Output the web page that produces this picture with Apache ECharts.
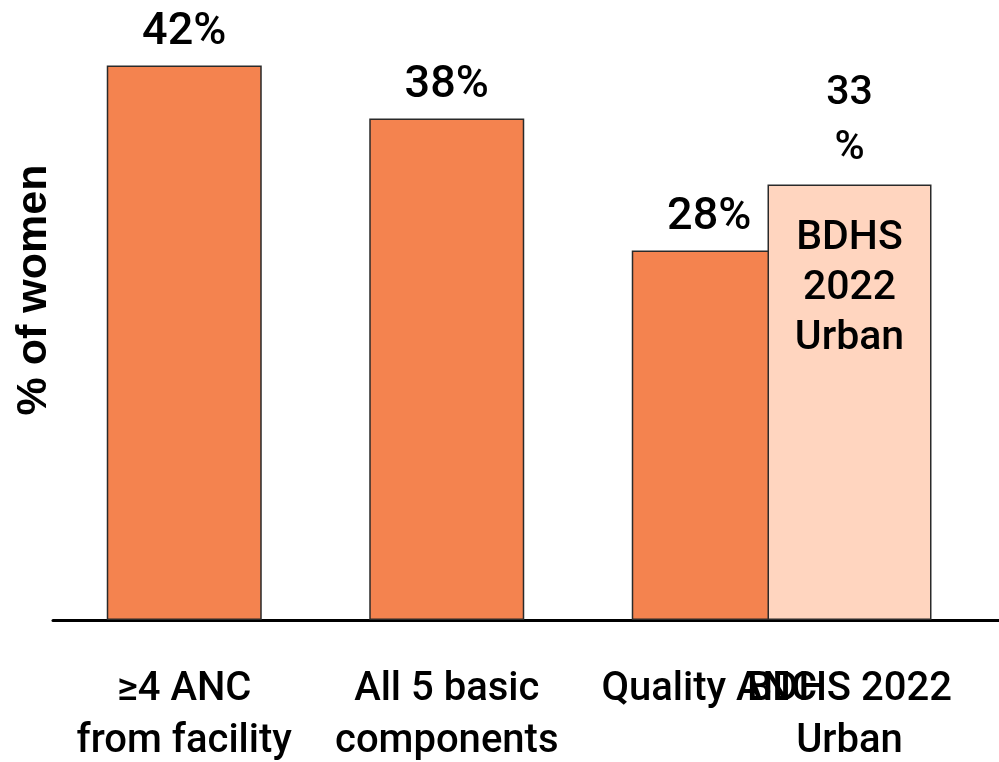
<!DOCTYPE html>
<html>
<head>
<meta charset="utf-8">
<title>ANC coverage</title>
<script src="https://cdn.jsdelivr.net/npm/echarts@6/dist/echarts.min.js"></script>
<style>
  html, body { margin: 0; padding: 0; background: #ffffff; }
  #chart { width: 999px; height: 762px; }
</style>
</head>
<body>
<div id="chart"></div>
<script>
// Categories shown along the baseline
const categories = ['≥4 ANC\nfrom facility', 'All 5 basic\ncomponents', 'Quality ANC', 'BDHS 2022\nUrban'];
// Study values (% of women)
const studyValues = [42, 38, 28, null];
// National survey comparison (% of women)
const bdhsValues = [null, null, null, 33];
// Axis settings
const yMax = 50;
const yAxisTitle = '% of women';

const FONT = 'Roboto';
const chart = echarts.init(document.getElementById('chart'), null, { renderer: 'canvas' });

const option = {
  animation: false,
  backgroundColor: '#ffffff',
  grid: [
    { left: 53, width: 1050, bottom: 142, height: 660, containLabel: false, outerBoundsMode: 'none' },
    { left: 9.5, width: 960, bottom: 142, height: 660, containLabel: false, outerBoundsMode: 'none' }
  ],
  xAxis: [
    {
      type: 'category',
      gridIndex: 0,
      data: categories,
      axisLine: { show: true, lineStyle: { color: '#000000', width: 3 } },
      axisTick: { show: false },
      splitLine: { show: false },
      axisLabel: {
        interval: 0,
        margin: 44,
        color: '#000000',
        fontFamily: FONT,
        fontWeight: 500,
        fontSize: 40,
        lineHeight: 52,
        formatter: (v, i) => (i < 3 ? v : '')
      }
    },
    {
      type: 'category',
      gridIndex: 1,
      data: categories,
      axisLine: { show: false },
      axisTick: { show: false },
      splitLine: { show: false },
      axisLabel: {
        interval: 0,
        margin: 44,
        color: '#000000',
        fontFamily: FONT,
        fontWeight: 500,
        fontSize: 40,
        lineHeight: 52,
        formatter: (v, i) => (i === 3 ? v : '')
      }
    }
  ],
  yAxis: [
    {
      type: 'value',
      gridIndex: 0,
      min: 0,
      max: yMax,
      name: yAxisTitle,
      nameLocation: 'middle',
      nameGap: 19,
      nameTextStyle: {
        color: '#000000',
        fontFamily: 'Liberation Sans',
        fontWeight: 'bold',
        fontSize: 43,
        verticalAlign: 'middle'
      },
      axisLine: { show: false },
      axisTick: { show: false },
      axisLabel: { show: false },
      splitLine: { show: false }
    },
    {
      type: 'value',
      gridIndex: 1,
      min: 0,
      max: yMax,
      show: false,
      splitLine: { show: false }
    }
  ],
  series: [
    {
      name: 'Study',
      type: 'bar',
      xAxisIndex: 0,
      yAxisIndex: 0,
      data: studyValues,
      barWidth: 155,
      itemStyle: { color: '#F4834F', borderColor: '#2a2a2a', borderWidth: 1.5 },
      label: {
        show: true,
        position: 'top',
        distance: 10,
        color: '#000000',
        fontFamily: FONT,
        fontWeight: 500,
        fontSize: 45,
        lineHeight: 45,
        formatter: p => p.value + '%'
      }
    },
    {
      name: 'BDHS 2022 Urban',
      type: 'bar',
      xAxisIndex: 1,
      yAxisIndex: 1,
      data: bdhsValues,
      barWidth: 164,
      barGap: '-100%',
      itemStyle: { color: '#FFD5BF', borderColor: '#2a2a2a', borderWidth: 1.5 },
      label: {
        show: true,
        position: 'insideTop',
        distance: 29,
        color: '#000000',
        fontFamily: FONT,
        fontWeight: 500,
        fontSize: 41,
        lineHeight: 50,
        formatter: p => p.name.replace(/\s+/g, '\n')
      }
    },
    {
      name: 'BDHS 2022 Urban value',
      type: 'bar',
      xAxisIndex: 1,
      yAxisIndex: 1,
      data: bdhsValues,
      barWidth: 164,
      barGap: '-100%',
      silent: true,
      itemStyle: { color: 'rgba(0,0,0,0)', borderWidth: 0 },
      label: {
        show: true,
        position: 'top',
        distance: 8,
        color: '#000000',
        fontFamily: FONT,
        fontWeight: 500,
        fontSize: 41,
        lineHeight: 55,
        formatter: p => p.value + '\n%'
      }
    }
  ]
};

chart.setOption(option);
</script>
</body>
</html>
